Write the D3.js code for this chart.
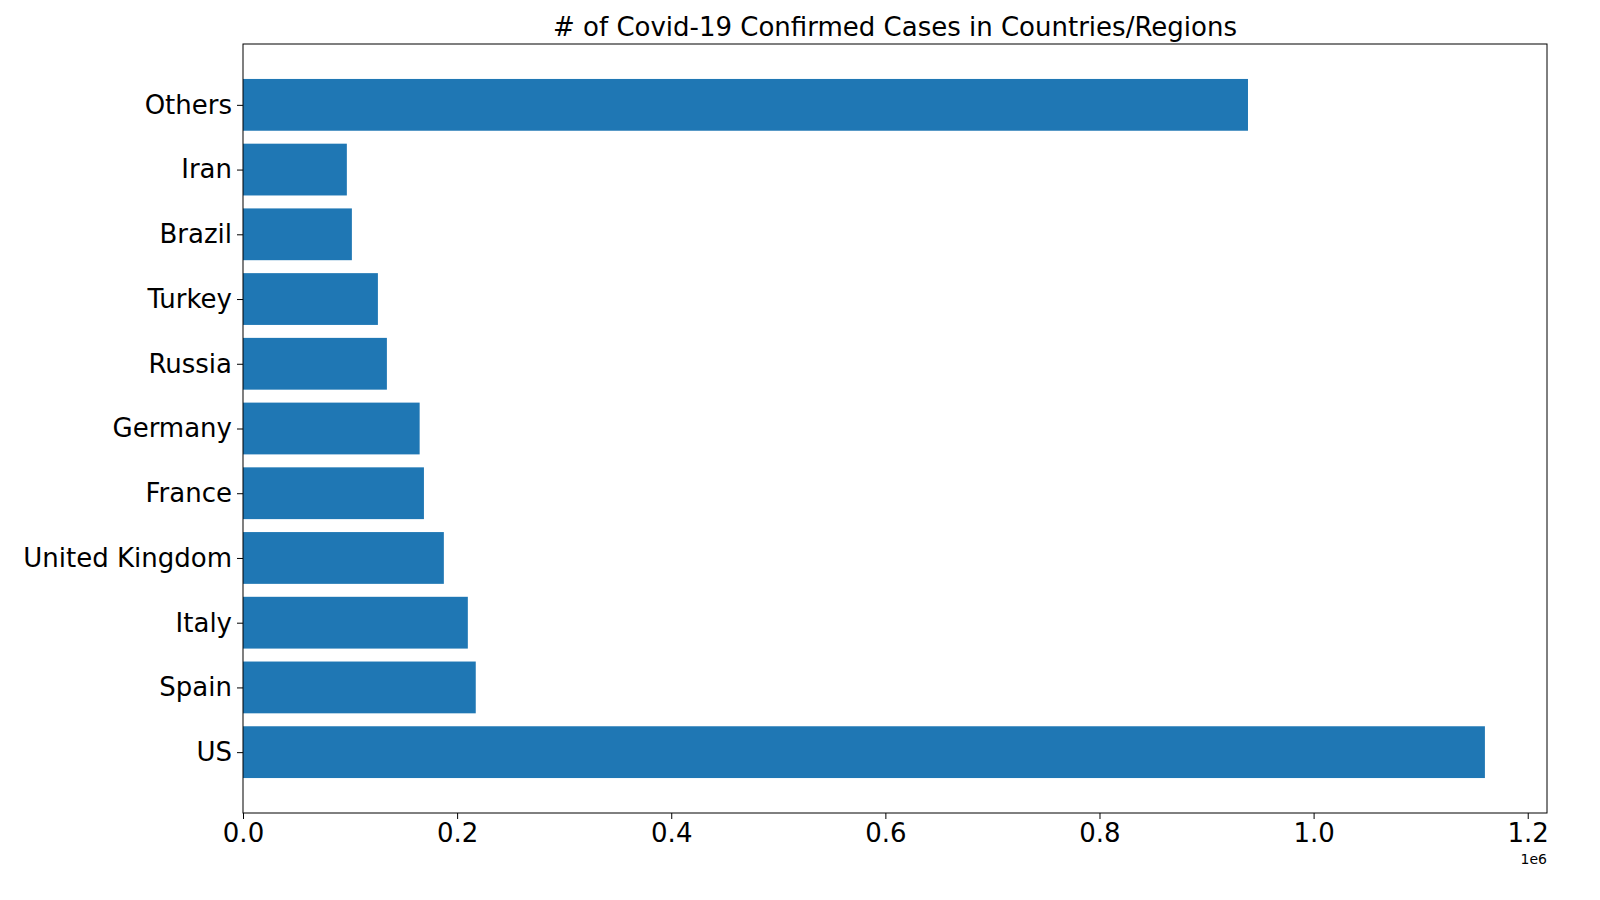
<!DOCTYPE html>
<html><head><meta charset="utf-8">
<script src="https://cdn.jsdelivr.net/npm/d3@7"></script>
<style>body{margin:0;background:#fff}text{font-family:"DejaVu Sans",sans-serif}</style>
</head><body><svg id="chart" width="1600" height="900"></svg>
<script>
const countries = ["US","Spain","Italy","United Kingdom","France","Germany","Russia","Turkey","Brazil","Iran","Others"];
const cases = [1160000,217400,210000,187600,169000,165000,134400,126000,101700,97000,938700];
const xTicks = [0,200000,400000,600000,800000,1000000,1200000];

const margin = {top: 44, right: 53, bottom: 87, left: 243},
    width = 1600 - margin.left - margin.right,
    height = 900 - margin.top - margin.bottom;

const svg = d3.select("#chart");
const g = svg.append("g").attr("transform", `translate(${margin.left},${margin.top})`);

const xMax = d3.max(cases) * 1.05;
const x = d3.scaleLinear().domain([0, xMax]).range([0, width]);
const y = d3.scaleLinear().domain([-0.94, countries.length - 1 + 0.94]).range([height, 0]);

g.selectAll("rect").data(cases).enter().append("rect")
    .attr("x", x(0))
    .attr("y", (d, i) => y(i + 0.4))
    .attr("width", d => x(d) - x(0))
    .attr("height", (d, i) => y(i - 0.4) - y(i + 0.4))
    .attr("fill", "#1f77b4");

const xAxis = g.append("g").attr("transform", `translate(0,${height})`)
    .call(d3.axisBottom(x).tickValues(xTicks).tickFormat(d => (d / 1e6).toFixed(1)).tickSizeOuter(0).tickSize(6).tickPadding(5));
const yAxis = g.append("g")
    .call(d3.axisLeft(y).tickValues(d3.range(countries.length)).tickFormat(i => countries[i]).tickSizeOuter(0).tickSize(6).tickPadding(5));
[xAxis, yAxis].forEach(a => {
  a.selectAll("text").style("font-size", "26px").attr("fill", "#000");
  a.select(".domain").remove();
});

g.append("rect").attr("width", width).attr("height", height)
    .attr("fill", "none").attr("stroke", "#000").attr("stroke-width", 1);

svg.append("text").attr("x", margin.left + width / 2).attr("y", 36)
    .attr("text-anchor", "middle").style("font-size", "26px")
    .text("# of Covid-19 Confirmed Cases in Countries/Regions");
svg.append("text").attr("x", margin.left + width).attr("y", 864)
    .attr("text-anchor", "end").style("font-size", "14px").text("1e6");
</script></body></html>
